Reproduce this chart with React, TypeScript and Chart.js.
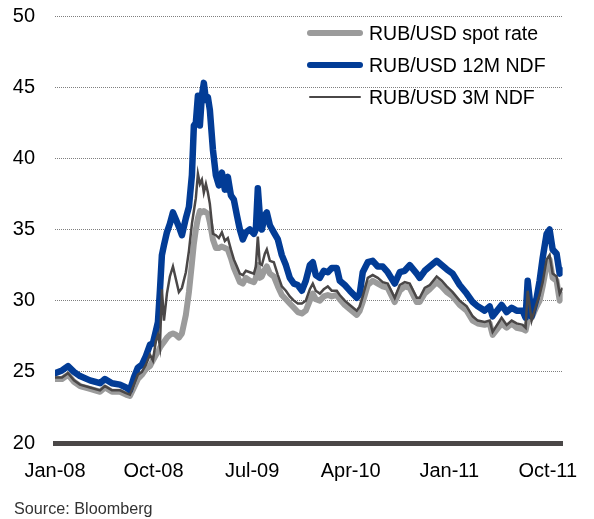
import React, { useEffect, useRef } from 'react';
import { Chart, registerables } from 'chart.js';

Chart.register(...registerables);

// months since Jan-2008
const months = [
  0.0, 0.64, 1.19, 1.73, 2.28, 3.19, 4.11, 4.56, 5.2, 5.93, 6.48, 6.84, 7.21, 7.57, 7.94, 8.3, 8.67, 8.94, 9.22, 9.4,
  9.58, 9.76, 9.95, 10.22, 10.49, 10.77, 11.04, 11.31, 11.59, 11.95, 12.23, 12.5, 12.68, 12.86, 13.05, 13.23, 13.41, 13.59, 13.78, 13.96,
  14.14, 14.42, 14.69, 14.96, 15.24, 15.51, 15.78, 16.06, 16.33, 16.61, 16.88, 17.15, 17.43, 17.79, 18.16, 18.34, 18.52, 18.7, 18.89, 19.16,
  19.34, 19.62, 19.98, 20.35, 20.71, 21.08, 21.44, 21.81, 22.17, 22.54, 22.9, 23.27, 23.54, 23.81, 24.18, 24.54, 24.91, 25.27, 25.73, 26.0,
  26.46, 26.92, 27.55, 27.83, 28.1, 28.56, 29.01, 29.47, 29.93, 30.38, 31.02, 31.48, 31.93, 32.39, 33.03, 33.3, 33.76, 34.22, 34.85, 35.31,
  35.77, 36.31, 36.95, 37.59, 38.14, 38.6, 39.23, 39.69, 39.96, 40.78, 41.24, 41.7, 42.15, 42.7, 42.97, 43.16, 43.52, 43.98, 44.25, 44.53,
  44.89, 45.16, 45.44, 45.8, 46.08, 46.35,
];

const spotRate = [
  24.5, 24.5, 24.8, 24.3, 24.0, 23.8, 23.6, 23.9, 23.6, 23.6, 23.4, 23.3, 23.9, 24.5, 24.8, 25.2, 25.4, 25.8, 26.2, 26.4,
  26.7, 26.9, 27.1, 27.4, 27.6, 27.7, 27.6, 27.4, 27.7, 29.0, 30.6, 32.6, 34.0, 35.0, 35.8, 36.3, 36.2, 36.3, 36.2, 36.1,
  35.5, 34.3, 33.7, 33.7, 33.8, 33.7, 33.6, 33.0, 32.3, 31.8, 31.3, 31.2, 31.6, 31.4, 31.3, 31.6, 32.5, 31.6, 31.7, 32.2,
  32.4, 31.9, 31.7, 31.0, 30.4, 30.1, 29.8, 29.5, 29.2, 29.1, 29.3, 30.0, 30.5, 30.1, 30.0, 30.3, 30.4, 30.3, 30.4, 30.1,
  29.7, 29.4, 29.0, 29.3, 29.9, 31.1, 31.4, 31.2, 31.0, 30.9, 29.9, 30.7, 31.0, 30.9, 29.9, 29.9, 30.5, 30.8, 31.3, 31.0,
  30.6, 30.3, 29.7, 29.3, 28.6, 28.4, 28.3, 28.4, 27.6, 28.4, 28.1, 28.4, 28.1, 28.0, 27.9, 28.6, 28.8, 29.6, 30.0, 31.0,
  32.5, 32.9, 31.6, 31.4, 30.0, 30.4,
];

const ndf12m = [
  24.9, 25.1, 25.4, 25.0, 24.7, 24.4, 24.2, 24.5, 24.2, 24.1, 23.9, 23.7, 24.6, 25.3, 25.5, 26.1, 26.9, 27.0, 27.9, 28.5,
  30.7, 33.2, 33.9, 34.8, 35.4, 36.2, 35.7, 35.2, 34.6, 35.8, 36.6, 38.8, 42.3, 42.5, 44.4, 42.3, 44.4, 45.3, 44.1, 44.3,
  43.4, 40.6, 38.8, 38.1, 39.0, 37.8, 38.7, 37.4, 37.1, 36.0, 35.0, 34.3, 34.8, 35.0, 34.7, 35.0, 37.9, 36.0, 35.0, 36.0,
  36.2, 35.3, 34.8, 34.3, 33.2, 32.5, 31.6, 31.2, 31.1, 30.7, 31.4, 32.5, 32.7, 31.8, 31.6, 32.1, 32.0, 32.3, 32.3, 31.4,
  31.1, 30.7, 30.2, 30.5, 32.0, 32.7, 32.8, 32.4, 32.4, 32.0, 31.2, 32.0, 32.1, 32.5, 31.9, 31.6, 32.1, 32.4, 32.8, 32.5,
  32.2, 31.9, 31.1, 30.5, 29.9, 29.6, 29.3, 29.6, 28.9, 29.7, 29.2, 29.5, 29.3, 29.3, 28.8, 31.4, 28.9, 30.2, 31.4, 33.0,
  34.7, 35.0, 33.6, 33.3, 31.9, 32.1,
];

const ndf3m = [
  24.6, 24.6, 24.9, 24.4, 24.1, 23.9, 23.7, 24.0, 23.7, 23.7, 23.5, 23.4, 24.1, 24.8, 25.0, 25.5, 26.2, 25.8, 27.2, 27.6,
  26.8, 30.8, 28.6, 30.5, 31.7, 32.4, 31.5, 30.6, 30.9, 32.0, 33.5, 35.4, 36.3, 37.2, 38.9, 38.2, 38.5, 37.6, 38.2, 37.6,
  36.8, 34.7, 34.6, 34.4, 34.8, 34.2, 34.4, 33.6, 32.9, 32.4, 31.9, 31.8, 32.1, 32.0, 31.9, 32.4, 34.5, 32.6, 32.5, 33.3,
  33.6, 32.8, 32.7, 31.8, 31.0, 30.7, 30.3, 30.0, 29.8, 29.8, 30.0, 30.8, 31.2, 30.7, 30.5, 30.8, 31.0, 30.7, 30.7, 30.4,
  30.0, 29.7, 29.3, 29.6, 30.3, 31.6, 31.8, 31.6, 31.3, 31.2, 30.2, 31.1, 31.3, 31.2, 30.2, 30.2, 30.9, 31.1, 31.7, 31.4,
  31.0, 30.6, 30.0, 29.6, 28.9, 28.6, 28.5, 28.6, 27.8, 28.8, 28.3, 28.6, 28.4, 28.3, 28.1, 30.7, 28.6, 29.8, 30.4, 31.3,
  32.9, 33.2, 31.9, 31.7, 30.5, 30.9,
];

const xTickPositions = [0, 9, 18, 27, 36, 45];
const xTickLabels = ['Jan-08', 'Oct-08', 'Jul-09', 'Apr-10', 'Jan-11', 'Oct-11'];
const seriesNames = ['RUB/USD spot rate', 'RUB/USD 12M NDF', 'RUB/USD 3M NDF'];
const sourceText = 'Source: Bloomberg';

const FONT = "'Liberation Sans', Arial, sans-serif";
const SPOT_COLOR = '#9b9b9b';
const BLUE_COLOR = '#023c96';
const DARK_COLOR = '#4a4747';

export default function App() {
  const ref = useRef<HTMLCanvasElement | null>(null);

  useEffect(() => {
    document.body.style.margin = '0';
    const canvas = ref.current;
    if (!canvas) return;
    const toPts = (vals: number[]) => months.map((m, i) => ({ x: m, y: vals[i] }));
    const chart = new Chart(canvas, {
      type: 'line',
      data: {
        datasets: [
          {
            label: seriesNames[2],
            data: toPts(ndf3m),
            borderColor: DARK_COLOR,
            borderWidth: 2.5,
            pointRadius: 0,
            tension: 0,
            order: 0,
          },
          {
            label: seriesNames[1],
            data: toPts(ndf12m),
            borderColor: BLUE_COLOR,
            borderWidth: 6.5,
            pointRadius: 0,
            tension: 0,
            borderJoinStyle: 'round',
            borderCapStyle: 'round',
            order: 1,
          },
          {
            label: seriesNames[0],
            data: toPts(spotRate),
            borderColor: SPOT_COLOR,
            borderWidth: 6,
            pointRadius: 0,
            tension: 0,
            borderJoinStyle: 'round',
            borderCapStyle: 'round',
            order: 2,
          },
        ],
      },
      options: {
        animation: false,
        responsive: false,
        layout: { padding: { top: 16, right: 31, left: 0, bottom: 0 } },
        plugins: { legend: { display: false }, tooltip: { enabled: false } },
        scales: {
          x: {
            type: 'linear',
            min: 0,
            max: 46.35,
            afterBuildTicks: (scale: any) => {
              scale.ticks = xTickPositions.map((v) => ({ value: v }));
            },
            afterFit: (scale: any) => {
              scale.height = 76;
            },
            ticks: {
              autoSkip: false,
              maxRotation: 0,
              padding: 16,
              color: '#000',
              font: { family: FONT, size: 20 },
              callback: (v: any) => {
                const i = xTickPositions.indexOf(Number(v));
                return i >= 0 ? xTickLabels[i] : '';
              },
            },
            grid: { display: false, drawTicks: false },
            border: { display: true, color: DARK_COLOR, width: 5 },
          },
          y: {
            min: 20,
            max: 50,
            afterFit: (scale: any) => {
              scale.width = 55;
              scale.paddingTop = 0;
              scale.paddingBottom = 0;
            },
            ticks: {
              stepSize: 5,
              padding: 20,
              color: '#000',
              font: { family: FONT, size: 20 },
            },
            grid: { color: '#7f7f7f', lineWidth: 1, drawTicks: false },
            border: { display: false, dash: [1, 1] },
          },
        },
      },
    });
    return () => chart.destroy();
  }, []);

  const legendRow = (name: string, color: string, width: number, top: number) => (
    <div key={name} style={{ position: 'absolute', left: 307, top: top - 12, height: 24, display: 'flex', alignItems: 'center' }}>
      <div
        style={{
          width: width > 3 ? 56 : 52,
          marginLeft: width > 3 ? 0 : 2,
          marginRight: width > 3 ? 6 : 8,
          height: width,
          background: color,
          borderRadius: width / 2,
        }}
      />
      <span style={{ fontFamily: FONT, fontSize: 19.5, color: '#000', whiteSpace: 'nowrap' }}>{name}</span>
    </div>
  );

  return (
    <div style={{ position: 'relative', width: 594, height: 519 }}>
      <canvas ref={ref} width={594} height={519} style={{ display: 'block' }} />
      {legendRow(seriesNames[0], SPOT_COLOR, 6, 33)}
      {legendRow(seriesNames[1], BLUE_COLOR, 6.5, 65)}
      {legendRow(seriesNames[2], DARK_COLOR, 2.5, 97)}
      <div style={{ position: 'absolute', left: 14, top: 499, fontFamily: FONT, fontSize: 16.2, color: '#333', whiteSpace: 'nowrap' }}>
        {sourceText}
      </div>
    </div>
  );
}
